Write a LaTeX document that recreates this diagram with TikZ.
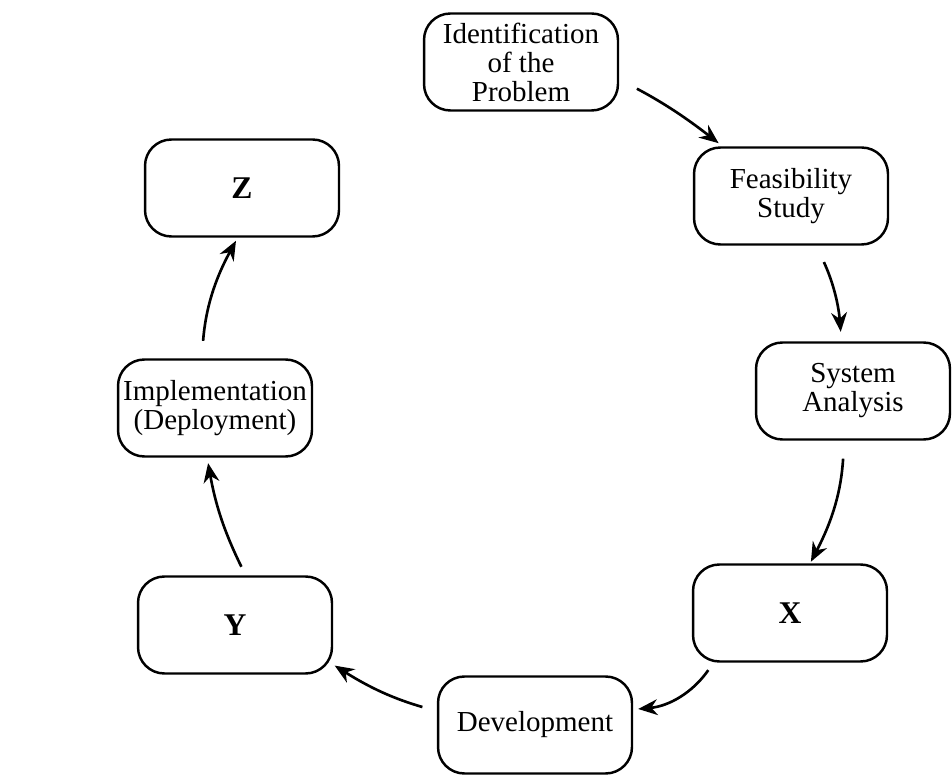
\documentclass[tikz,border=0pt]{standalone}
\usepackage{fontspec}
\setmainfont{Liberation Serif}
\usetikzlibrary{arrows.meta}

\begin{document}
\begin{tikzpicture}[x=0.02cm,y=0.02cm,
        stage/.style={draw, line width=1.4pt, rounded corners=15pt, minimum width=3.88cm, minimum height=1.94cm, inner sep=0pt, align=center, font=\fontsize{16.5}{16.5}\selectfont},
        flow/.style={-{Stealth[length=11pt,width=9pt]}, line width=1.5pt}]
        \useasboundingbox (0,0) rectangle (952,774);
        \node[stage] (ident) at (521,712) {Identification\\of the\\Problem};
        \node[stage] (feas) at (791,578) {Feasibility\\Study};
        \node[stage] (sysa) at (853,383) {System\\Analysis};
        \node[stage] (X) at (790,161) {\fontsize{18}{18}\selectfont\textbf{X}};
        \node[stage] (dev) at (535,49) {Development};
        \node[stage] (Y) at (235,149) {\fontsize{18}{18}\selectfont\textbf{Y}};
        \node[stage] (impl) at (215,366) {Implementation\\(Deployment)};
        \node[stage] (Z) at (242,586) {\fontsize{18}{18}\selectfont\textbf{Z}};
        \draw[flow, shorten <=0.4cm, shorten >=0.1cm] (ident.-10) to[bend left=5] (feas.144);
        \draw[flow, shorten <=0.36cm, shorten >=0.19cm] (feas.-63) to[bend left=10] (sysa.103);
        \draw[flow, shorten <=0.36cm, shorten >=1pt] (sysa.-100) to[bend left=12] (X.68);
        \draw[flow, shorten <=0.18cm, shorten >=0.1cm] (X.-147) to[bend left=25] (dev.9);
        \draw[flow, shorten <=0.3cm, shorten >=1pt] (dev.172) to[bend left=8] (Y.-22);
        \draw[flow, shorten <=0.19cm, shorten >=0.11cm] (Y.78) to[bend left=8] (impl.-99);
        \draw[flow, shorten <=0.35cm, shorten >=0.07cm] (impl.105) to[bend left=12] (Z.-95);
    \end{tikzpicture}
\end{document}
